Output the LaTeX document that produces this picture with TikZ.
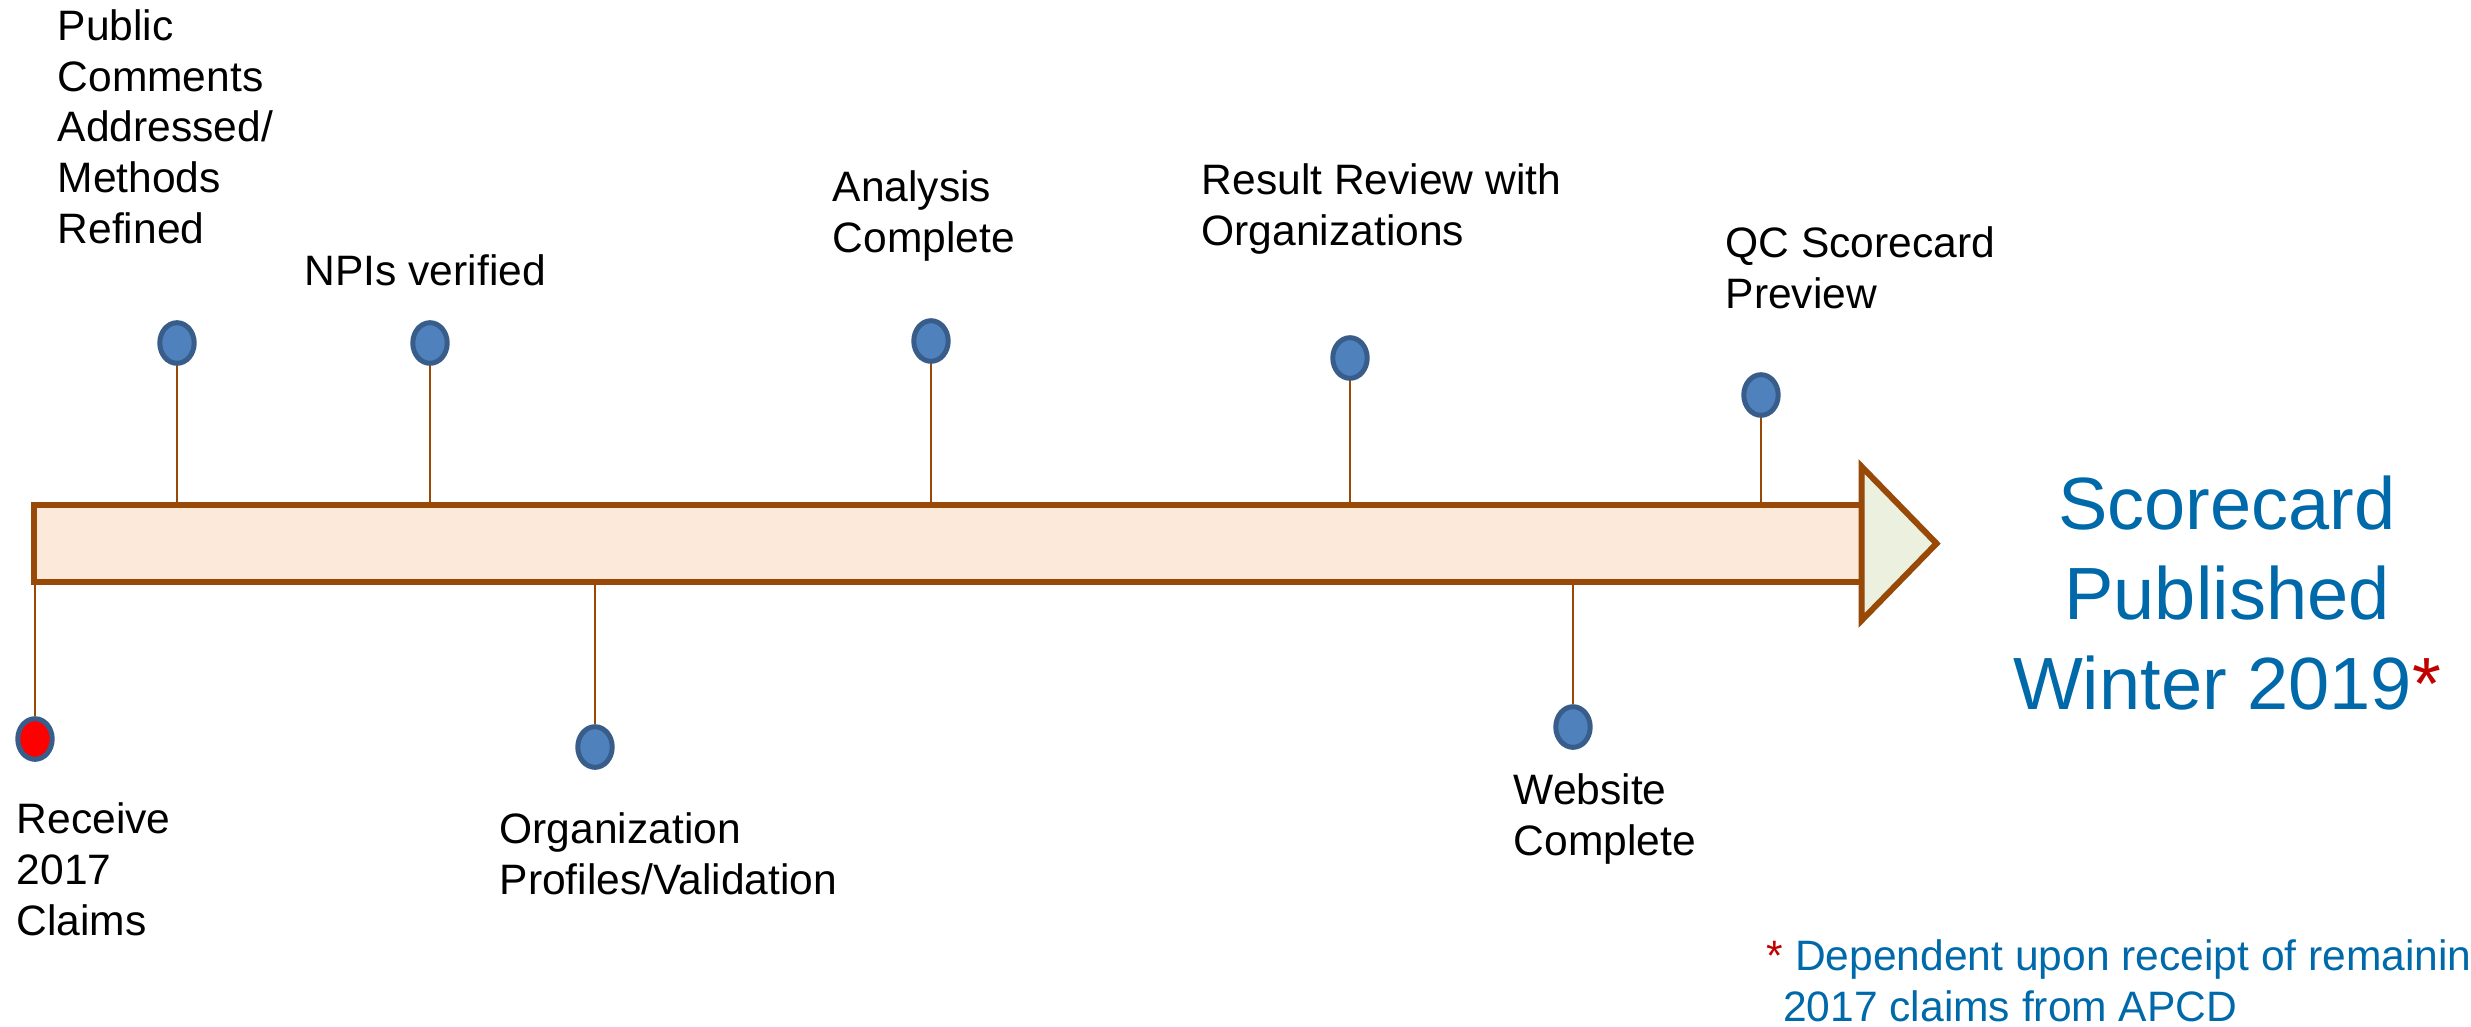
\documentclass[tikz,border=0pt]{standalone}
\usepackage{fontspec}
\setmainfont{Liberation Sans}
\usepackage{tikz}
\usetikzlibrary{shapes.geometric}

\definecolor{barline}{RGB}{152,72,7}
\definecolor{barfill}{RGB}{253,233,217}
\definecolor{headfill}{RGB}{235,241,222}
\definecolor{dotfill}{RGB}{79,129,189}
\definecolor{dotline}{RGB}{56,93,138}
\definecolor{pubblue}{RGB}{0,105,170}
\definecolor{starred}{RGB}{192,0,0}

\begin{document}
\begin{tikzpicture}[
            x=0.01cm, y=-0.01cm,
            event node/.style={ellipse,draw=dotline,fill=dotfill,line width=1.42pt,inner sep=0pt,minimum width=3.44mm,minimum height=4.06mm},
            stem/.style={draw=barline,line width=0.6pt},
            event text/.style={anchor=base west,inner sep=0pt,align=left,font=\fontsize{12.1}{14.37}\selectfont},
            ]
            \useasboundingbox (0,0) rectangle (2471,1026);

            % the time bar
            \node[draw=barline, fill=barfill, line width=1.7pt, inner sep=0pt, outer sep=0pt, minimum width=18.26cm, minimum height=0.77cm] (bar) at (948,543.5) {};
            \draw[draw=barline, fill=headfill, line width=1.7pt] (bar.east) ++(0,-77) -- ++(75,77) -- ++(-75,77) -- cycle;

            \node[event node, fill=red] (1) at (35,739) {};
            \node[event node] (2) at (177,343) {};
            \node[event node] (3) at (430,343) {};
            \node[event node] (4) at (595,747) {};
            \node[event node] (5) at (931,341) {};
            \node[event node] (6) at (1350,358) {};
            \node[event node] (7) at (1573,727) {};
            \node[event node] (8) at (1761,395) {};

            \draw[stem] (1) -- (1 |- bar.south);
            \draw[stem] (2) -- (2 |- bar.north);
            \draw[stem] (3) -- (3 |- bar.north);
            \draw[stem] (4) -- (4 |- bar.south);
            \draw[stem] (5) -- (5 |- bar.north);
            \draw[stem] (6) -- (6 |- bar.north);
            \draw[stem] (7) -- (7 |- bar.south);
            \draw[stem] (8) -- (8 |- bar.north);

            % labels sit on the baseline of their last line
            \node[event text] (t1) at (16,935) {Receive\\2017\\Claims};
            \node[event text] (t2) at (57,243) {Public\\Comments\\Addressed/\\Methods\\Refined};
            \node[event text] (t3) at (304,285) {NPIs verified};
            \node[event text] (t4) at (499,894) {Organization\\Profiles/Validation};
            \node[event text] (t5) at (832,252) {Analysis\\Complete};
            \node[event text] (t6) at (1201,245) {Result Review with\\Organizations};
            \node[event text] (t7) at (1513,855) {Website\\Complete};
            \node[event text] (t8) at (1725,308) {QC Scorecard\\Preview};

            \node[anchor=base, inner sep=0pt, align=center, text=pubblue, font=\fontsize{21.05}{25.5}\selectfont] (pub) at (2227,709) {Scorecard\\Published\\Winter 2019\textcolor{starred}{*}};
            \node[event text, text=pubblue] (note) at (1766,1021) {\textcolor{starred}{*} Dependent upon receipt of remainin\\\phantom{*}2017 claims from APCD};
\end{tikzpicture}
\end{document}
